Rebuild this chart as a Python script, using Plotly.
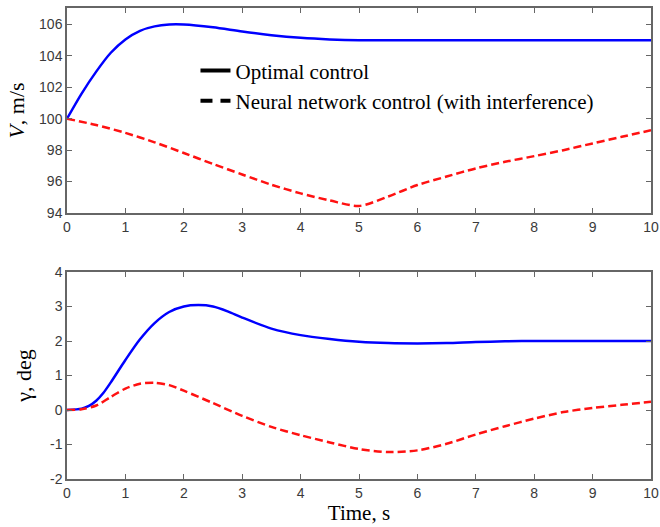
import plotly.graph_objects as go
from plotly.subplots import make_subplots

# ---- data ----
t_v_opt = [0, 0.25, 0.5, 0.75, 1.0, 1.25, 1.5, 1.75, 2.0, 2.5, 3.0, 3.5, 4.0, 4.5, 5.0, 6, 7, 8, 9, 10]
v_opt = [100, 101.6, 103.0, 104.2, 105.05, 105.6, 105.88, 106.0, 106.0, 105.82, 105.55, 105.32, 105.15, 105.05, 105.0, 105, 105, 105, 105, 105]

t_v_nn = [0, 0.5, 1, 1.5, 2, 2.5, 3, 3.5, 4, 4.5, 5, 5.5, 6, 6.5, 7, 7.5, 8, 8.5, 9, 9.5, 10]
v_nn = [100, 99.6, 99.1, 98.5, 97.82, 97.12, 96.45, 95.8, 95.25, 94.8, 94.45, 95.05, 95.78, 96.32, 96.84, 97.26, 97.62, 98.0, 98.43, 98.85, 99.27]

t_g_opt = [0, 0.25, 0.375, 0.5, 0.625, 0.75, 1, 1.25, 1.5, 1.75, 2, 2.25, 2.5, 2.75, 3, 3.5, 4, 4.5, 5, 5.5, 6, 6.5, 7, 7.5, 8, 9, 10]
g_opt = [0, 0.04, 0.12, 0.27, 0.5, 0.8, 1.45, 2.05, 2.52, 2.84, 3.0, 3.04, 3.0, 2.86, 2.68, 2.36, 2.17, 2.06, 1.98, 1.94, 1.93, 1.94, 1.97, 1.99, 2.0, 2.0, 2.0]

t_g_nn = [0, 0.25, 0.5, 0.75, 1, 1.25, 1.5, 1.75, 2, 2.5, 3, 3.5, 4, 4.5, 5, 5.5, 6, 6.5, 7, 7.5, 8, 8.5, 9, 9.5, 10]
g_nn = [0, 0.02, 0.13, 0.38, 0.62, 0.76, 0.79, 0.72, 0.56, 0.2, -0.17, -0.49, -0.73, -0.94, -1.13, -1.22, -1.17, -0.98, -0.71, -0.47, -0.25, -0.06, 0.06, 0.15, 0.24]

x_ticks = list(range(0, 11))
v_ticks = [94, 96, 98, 100, 102, 104, 106]
g_ticks = [-2, -1, 0, 1, 2, 3, 4]
g_tick_labels = ["-2", "-1", "0", "1", "2", "3", "4"]

legend_names = ["Optimal control", "Neural network control (with interference)"]

BLUE = "#0000ff"
RED = "#ff1111"
AX = "#666666"
SERIF = "Liberation Serif"
SANS = "Liberation Sans"

fig = make_subplots(rows=2, cols=1, vertical_spacing=0.12)

fig.add_trace(go.Scatter(x=t_v_opt, y=v_opt, mode="lines", line=dict(color=BLUE, width=2.5, shape="spline", smoothing=0.8), showlegend=False), row=1, col=1)
fig.add_trace(go.Scatter(x=t_v_nn, y=v_nn, mode="lines", line=dict(color=RED, width=2.5, dash="8px,4px", shape="spline", smoothing=0.8), showlegend=False), row=1, col=1)
fig.add_trace(go.Scatter(x=t_g_opt, y=g_opt, mode="lines", line=dict(color=BLUE, width=2.5, shape="spline", smoothing=0.8), showlegend=False), row=2, col=1)
fig.add_trace(go.Scatter(x=t_g_nn, y=g_nn, mode="lines", line=dict(color=RED, width=2.5, dash="8px,4px", shape="spline", smoothing=0.8), showlegend=False), row=2, col=1)

# legend entries (black samples like the reference)
fig.add_trace(go.Scatter(x=[None], y=[None], mode="lines", name=legend_names[0], line=dict(color="black", width=4), legendgroup="a"), row=1, col=1)
fig.add_trace(go.Scatter(x=[None], y=[None], mode="lines", name=legend_names[1], line=dict(color="black", width=4, dash="12px,8px"), legendgroup="b"), row=1, col=1)

axis_common = dict(showline=True, linecolor=AX, linewidth=1.5, mirror="ticks", ticks="inside", ticklen=5, tickcolor=AX,
                   tickwidth=1, showgrid=False, zeroline=False, automargin=False, ticklabeloverflow="allow",
                   tickfont=dict(family=SANS, size=14, color="#3a3a3a"))

fig.update_xaxes(range=[0, 10], tickvals=x_ticks, **axis_common)
fig.update_yaxes(**axis_common)

fig.update_yaxes(range=[94, 107.05], tickvals=v_ticks, row=1, col=1,
                 title=dict(text="<i>V</i>, m/s", font=dict(family=SERIF, size=22, color="black"), standoff=8))
fig.update_yaxes(range=[-2, 4], tickvals=g_ticks, ticktext=g_tick_labels, row=2, col=1,
                 title=dict(text="γ, deg", font=dict(family=SERIF, size=22, color="black"), standoff=12))
fig.update_xaxes(row=2, col=1, title=dict(text="Time, s", font=dict(family=SERIF, size=21, color="black"), standoff=6))

fig.update_layout(
    width=660, height=527,
    margin=dict(l=67, r=9, t=8, b=48),
    paper_bgcolor="white", plot_bgcolor="white",
    showlegend=True,
    legend=dict(x=0.22, y=0.91, xanchor="left", yanchor="top", bgcolor="rgba(0,0,0,0)",
                font=dict(family=SERIF, size=21, color="black"), tracegroupgap=0),
)
fig.layout.yaxis.domain = [1 - 205 / 471, 1]
fig.layout.yaxis2.domain = [0, 1 - 264 / 471]

fig.write_html("out.html")
